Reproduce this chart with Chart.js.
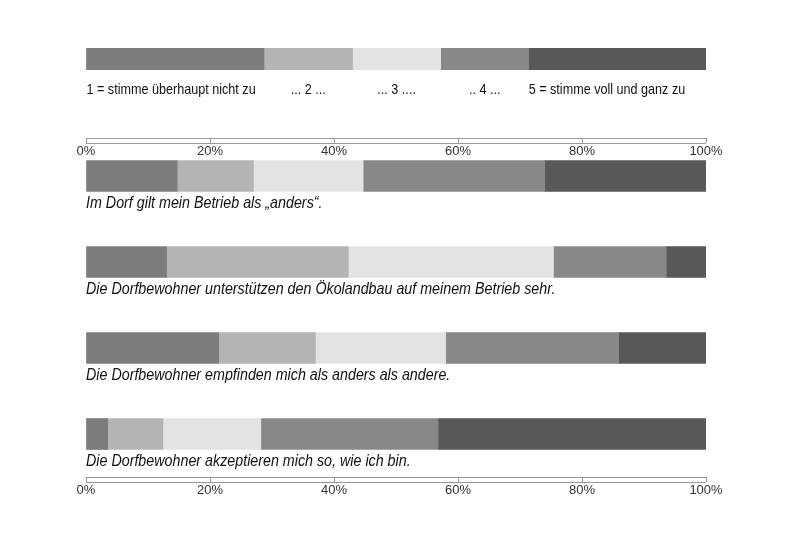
<!DOCTYPE html>
<html>
<head>
<meta charset="utf-8">
<script src="https://cdn.jsdelivr.net/npm/chart.js@4.4.1/dist/chart.umd.min.js"></script>
<style>
  html, body { margin: 0; padding: 0; background: #fff; }
  #wrap { position: relative; width: 800px; height: 533px; }
  #wrap canvas { position: absolute; left: 0; top: 0; }
</style>
</head>
<body>
<div id="wrap">
  <canvas id="scaleChart" width="800" height="162"></canvas>
  <canvas id="mainChart" width="800" height="533"></canvas>
</div>
<script>
// answer scale (legend bar) and statements
const scaleLabels = ["1 = stimme überhaupt nicht zu", "... 2 ...", "... 3 ....", ".. 4 ...", "5 = stimme voll und ganz zu"];
const scaleWidths = [28.7, 14.3, 14.2, 14.2, 28.6];

const statements = [
    "Im Dorf gilt mein Betrieb als „anders“.",
    "Die Dorfbewohner unterstützen den Ökolandbau auf meinem Betrieb sehr.",
    "Die Dorfbewohner empfinden mich als anders als andere.",
    "Die Dorfbewohner akzeptieren mich so, wie ich bin."
];

// percent per answer, one value per statement
const answer1 = [14.7, 13.0, 21.4, 3.5];
const answer2 = [12.3, 29.3, 15.6, 8.9];
const answer3 = [17.7, 33.1, 21.0, 15.8];
const answer4 = [29.3, 18.2, 27.9, 28.6];
const answer5 = [26.0, 6.4, 14.1, 43.2];

const tickValues = [0, 20, 40, 60, 80, 100];

const shades = ["#7c7c7c", "#b4b4b4", "#e3e3e3", "#888888", "#585858"];
const textFont = "'Liberation Sans', Arial, sans-serif";
const squeeze = 0.84; // original text is a condensed Arial

// the axis is a thin band: draw the second line under the tick marks
const axisBand = {
    id: "axisBand",
    afterDraw(chart) {
        const sc = chart.scales.x;
        const ctx = chart.ctx;
        const tl = sc.options.grid.tickLength;
        ctx.save();
        ctx.strokeStyle = "#9a9a9a";
        ctx.lineWidth = 1;
        ctx.beginPath();
        ctx.moveTo(sc.left, Math.round(sc.top + tl) + 0.5);
        ctx.lineTo(sc.right, Math.round(sc.top + tl) + 0.5);
        ctx.stroke();
        ctx.restore();
    }
};

function axisOptions() {
    return {
        type: "linear",
        position: "bottom",
        min: 0,
        max: 100,
        weight: 1,
        afterBuildTicks: sc => { sc.ticks = tickValues.map(v => ({ value: v })); },
        grid: { drawOnChartArea: false, drawTicks: true, tickLength: 5, color: "#9a9a9a" },
        border: { display: true, color: "#9a9a9a" },
        ticks: {
            padding: 1,
            color: "#333",
            font: { family: textFont, size: 13 },
            callback: v => v + "%"
        }
    };
}

function narrowText(ctx, text, x, y) {
    ctx.save();
    ctx.translate(x, y);
    ctx.scale(squeeze, 1);
    ctx.fillText(text, 0, 0);
    ctx.restore();
}

// labels under the answer scale bar
const scaleText = {
    id: "scaleText",
    afterDatasetsDraw(chart) {
        const ctx = chart.ctx;
        const last = chart.data.datasets.length - 1;
        ctx.save();
        ctx.fillStyle = "#111";
        ctx.font = "15px " + textFont;
        ctx.textBaseline = "middle";
        chart.data.datasets.forEach((ds, i) => {
            const bar = chart.getDatasetMeta(i).data[0];
            const y = bar.y + bar.height / 2 + 20;
            if (i === 0 || i === last) {
                ctx.textAlign = "left";
                narrowText(ctx, ds.label, Math.min(bar.base, bar.x), y);
            } else {
                ctx.textAlign = "center";
                narrowText(ctx, ds.label, (bar.base + bar.x) / 2, y);
            }
        });
        ctx.restore();
    }
};

// statement text under each bar
const statementText = {
    id: "statementText",
    afterDatasetsDraw(chart) {
        const ctx = chart.ctx;
        const meta = chart.getDatasetMeta(0);
        ctx.save();
        ctx.fillStyle = "#111";
        ctx.font = "italic 17px " + textFont;
        ctx.textAlign = "left";
        ctx.textBaseline = "middle";
        chart.data.labels.forEach((label, i) => {
            const bar = meta.data[i];
            narrowText(ctx, label, chart.chartArea.left, bar.y + bar.height / 2 + 12);
        });
        ctx.restore();
    }
};

const common = {
    indexAxis: "y",
    responsive: false,
    animation: false,
    plugins: { legend: { display: false }, tooltip: { enabled: false }, title: { display: false } }
};

new Chart(document.getElementById("scaleChart"), {
    type: "bar",
    data: {
        labels: ["Skala"],
        datasets: scaleLabels.map((lab, i) => ({
            label: lab,
            data: [scaleWidths[i]],
            backgroundColor: shades[i],
            borderWidth: 0,
            barPercentage: 1,
            categoryPercentage: 1
        }))
    },
    options: {
        ...common,
        layout: { padding: { top: 48, left: 86, right: 94, bottom: 0 } },
        scales: {
            y: { type: "category", stacked: true, display: false },
            x: { ...axisOptions(), stacked: true, afterFit: sc => { sc.height = 24; } },
            gap: {
                type: "linear", position: "bottom", weight: 0, min: 0, max: 100,
                grid: { display: false }, border: { display: false }, ticks: { display: false },
                afterFit: sc => { sc.height = 68; }
            }
        }
    },
    plugins: [axisBand, scaleText]
});

const answers = [answer1, answer2, answer3, answer4, answer5];

new Chart(document.getElementById("mainChart"), {
    type: "bar",
    data: {
        labels: statements,
        datasets: answers.map((vals, i) => ({
            label: scaleLabels[i],
            data: vals,
            backgroundColor: shades[i],
            borderWidth: 0,
            barThickness: 31
        }))
    },
    options: {
        ...common,
        layout: { padding: { top: 133, left: 86, right: 94, bottom: 0 } },
        scales: {
            y: { type: "category", stacked: true, display: false },
            x: { ...axisOptions(), stacked: true, afterFit: sc => { sc.height = 56; } }
        }
    },
    plugins: [axisBand, statementText]
});
</script>
</body>
</html>
